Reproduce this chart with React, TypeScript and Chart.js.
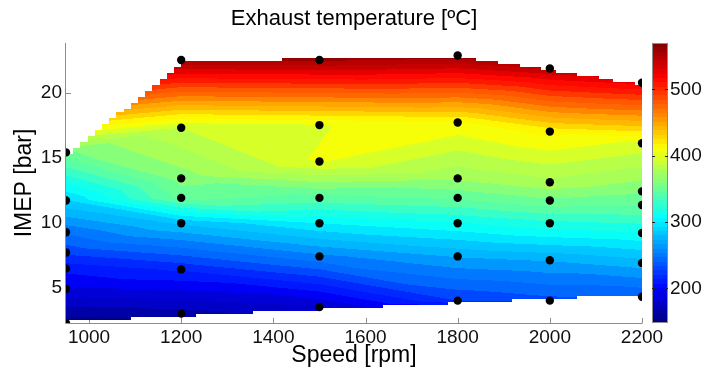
import React, { useEffect, useRef } from 'react';
import { Chart, registerables } from 'chart.js';
Chart.register(...registerables);

// ---- data ----
const speedColumns = [950, 1200, 1500, 1800, 2000, 2200];
const imep950 = [2.26, 4.9, 6.46, 7.7, 9.26, 11.7, 15.4];
const temp950 = [152, 190, 207, 228, 249, 290, 355];
const imep1200 = [3.0, 6.4, 9.95, 11.9, 13.4, 17.3, 22.5];
const temp1200 = [165, 216, 282, 350, 362, 390, 555];
const imep1500 = [3.5, 7.4, 9.95, 11.9, 14.7, 17.5, 22.5];
const temp1500 = [180, 255, 302, 342, 402, 400, 557];
const imep1800 = [4.0, 7.4, 9.95, 11.9, 13.4, 17.7, 22.85];
const temp1800 = [225, 270, 312, 348, 370, 410, 562];
const imep2000 = [4.0, 7.1, 9.95, 11.7, 13.1, 17.0, 21.85];
const temp2000 = [232, 270, 321, 355, 376, 416, 545];
const imep2200 = [4.3, 6.9, 9.2, 11.35, 12.4, 16.1, 20.75];
const temp2200 = [237, 275, 312, 348, 359, 398, 525];
const imepColumns = [imep950, imep1200, imep1500, imep1800, imep2000, imep2200];
const tempColumns = [temp950, temp1200, temp1500, temp1800, temp2000, temp2200];

const speedTicks = [1000, 1200, 1400, 1600, 1800, 2000, 2200];
const imepTicks = [5, 10, 15, 20];
const tempTicks = [200, 300, 400, 500];
const speedRange = [950, 2200];
const imepRange = [2.28, 23.82];
const tempRange = [148, 570];

const titleText = 'Exhaust temperature [ºC]';
const xTitle = 'Speed [rpm]';
const yTitle = 'IMEP [bar]';

const FONT = "'Liberation Sans', Arial, sans-serif";
const AXIS_GRAY = '#8c8c8c';
const BAND_STEP = 11;
const GRID_NX = 80;
const GRID_NY = 90;

type Pt = { x: number; y: number; t: number; u: number; v: number };

const U = (x: number) => ((x - speedRange[0]) / (speedRange[1] - speedRange[0])) * 576;
const V = (y: number) => ((y - imepRange[0]) / (imepRange[1] - imepRange[0])) * 280;

const points: Pt[] = speedColumns.flatMap((s, c) =>
  imepColumns[c].map((m, k) => ({ x: s, y: m, t: tempColumns[c][k], u: U(s), v: V(m) }))
);

function triangulate(p: Pt[]): number[][] {
  const n = p.length;
  const q = p.map((a) => ({ u: a.u, v: a.v }));
  const M = 20000;
  q.push({ u: -M, v: -M }, { u: 2 * M, v: -M }, { u: 288, v: 2 * M });
  let tris: number[][] = [[n, n + 1, n + 2]];
  const inCirc = (t: number[], d: { u: number; v: number }) => {
    const a = q[t[0]], b = q[t[1]], c = q[t[2]];
    const orient = (b.u - a.u) * (c.v - a.v) - (b.v - a.v) * (c.u - a.u);
    const adx = a.u - d.u, ady = a.v - d.v, bdx = b.u - d.u, bdy = b.v - d.v, cdx = c.u - d.u, cdy = c.v - d.v;
    const det =
      (adx * adx + ady * ady) * (bdx * cdy - cdx * bdy) -
      (bdx * bdx + bdy * bdy) * (adx * cdy - cdx * ady) +
      (cdx * cdx + cdy * cdy) * (adx * bdy - bdx * ady);
    return orient > 0 ? det > 1e-9 : det < -1e-9;
  };
  for (let i = 0; i < n; i++) {
    const d = q[i];
    const bad: number[][] = [];
    const keep: number[][] = [];
    for (const t of tris) (inCirc(t, d) ? bad : keep).push(t);
    const edges: number[][] = [];
    for (const t of bad) for (let k = 0; k < 3; k++) edges.push([t[k], t[(k + 1) % 3]]);
    const boundary = edges.filter(
      ([a, b]) => edges.filter(([c, e]) => (a === c && b === e) || (a === e && b === c)).length === 1
    );
    tris = keep;
    for (const [a, b] of boundary) tris.push([a, b, i]);
  }
  return tris.filter((t) => t[0] < n && t[1] < n && t[2] < n);
}

function convexHull(p: Pt[]): { u: number; v: number }[] {
  const s = p.map((a) => ({ u: a.u, v: a.v })).sort((a, b) => a.u - b.u || a.v - b.v);
  const cross = (o: any, a: any, b: any) => (a.u - o.u) * (b.v - o.v) - (a.v - o.v) * (b.u - o.u);
  const lower: any[] = [];
  for (const pt of s) {
    while (lower.length >= 2 && cross(lower[lower.length - 2], lower[lower.length - 1], pt) <= 1e-9) lower.pop();
    lower.push(pt);
  }
  const upper: any[] = [];
  for (let i = s.length - 1; i >= 0; i--) {
    const pt = s[i];
    while (upper.length >= 2 && cross(upper[upper.length - 2], upper[upper.length - 1], pt) <= 1e-9) upper.pop();
    upper.push(pt);
  }
  upper.pop();
  lower.pop();
  return lower.concat(upper);
}

function jet(t: number): [number, number, number] {
  const c = (x: number) => Math.max(0, Math.min(1, x));
  const idx = Math.min(63, Math.max(0, Math.floor(t * 64)));
  const q = (idx + 0.5) / 64;
  return [c(1.5 - Math.abs(4 * q - 3)), c(1.5 - Math.abs(4 * q - 2)), c(1.5 - Math.abs(4 * q - 1))];
}

function drawField(chart: any) {
  const { ctx, chartArea: ca, scales } = chart;
  const xs = scales.x, ys = scales.y;
  const tris = triangulate(points);
  const hull = convexHull(points);
  const coef = tris
    .map((t) => {
      const a = points[t[0]], b = points[t[1]], c = points[t[2]];
      const det = (b.v - c.v) * (a.u - c.u) + (c.u - b.u) * (a.v - c.v);
      return { a, b, c, det };
    })
    .filter((o) => Math.abs(o.det) > 1e-6);
  const inside = (u: number, v: number) => {
    for (let k = 0; k < hull.length; k++) {
      const a = hull[k], b = hull[(k + 1) % hull.length];
      const len = Math.hypot(b.u - a.u, b.v - a.v);
      const cr = (b.u - a.u) * (v - a.v) - (b.v - a.v) * (u - a.u);
      if (cr < -0.02 * len) return false;
    }
    return true;
  };
  const allX = points.map((p) => p.x), allY = points.map((p) => p.y);
  const gx0 = Math.min(...allX), gx1 = Math.max(...allX);
  const gy0 = Math.min(...allY), gy1 = Math.max(...allY);
  const nodeIn: boolean[] = [];
  for (let j = 0; j <= GRID_NY; j++)
    for (let i = 0; i <= GRID_NX; i++)
      nodeIn[j * (GRID_NX + 1) + i] = inside(U(gx0 + ((gx1 - gx0) * i) / GRID_NX), V(gy0 + ((gy1 - gy0) * j) / GRID_NY));
  const cellIn = (ci: number, cj: number) =>
    ci >= 0 && cj >= 0 && ci < GRID_NX && cj < GRID_NY &&
    nodeIn[cj * (GRID_NX + 1) + ci] && nodeIn[cj * (GRID_NX + 1) + ci + 1] &&
    nodeIn[(cj + 1) * (GRID_NX + 1) + ci] && nodeIn[(cj + 1) * (GRID_NX + 1) + ci + 1];

  const L = Math.round(ca.left), T = Math.round(ca.top), R = Math.round(ca.right), B = Math.round(ca.bottom);
  const w = R - L, h = B - T;
  const img = ctx.createImageData(w, h);
  const d = img.data;
  const xv: number[] = [];
  for (let i = 0; i < w; i++) xv.push(xs.getValueForPixel(L + i + 0.5));
  for (let j = 0; j < h; j++) {
    const yv = ys.getValueForPixel(T + j + 0.5);
    const v = V(yv);
    const cj = Math.floor(((yv - gy0) / (gy1 - gy0)) * GRID_NY);
    for (let i = 0; i < w; i++) {
      const x = xv[i];
      const ci = Math.floor(((x - gx0) / (gx1 - gx0)) * GRID_NX);
      if (!cellIn(ci, cj)) continue;
      const u = U(x);
      let best = -Infinity, val = 0;
      for (const o of coef) {
        const { a, b, c, det } = o;
        const l1 = ((b.v - c.v) * (u - c.u) + (c.u - b.u) * (v - c.v)) / det;
        const l2 = ((c.v - a.v) * (u - c.u) + (a.u - c.u) * (v - c.v)) / det;
        const l3 = 1 - l1 - l2;
        const m = Math.min(l1, l2, l3);
        if (m > best) {
          best = m;
          val = l1 * a.t + l2 * b.t + l3 * c.t;
          if (m >= -1e-9) break;
        }
      }
      const band = Math.floor((val - tempRange[0]) / BAND_STEP);
      const bv = tempRange[0] + (band + 0.5) * BAND_STEP;
      const [r, g, bl] = jet((bv - tempRange[0]) / (tempRange[1] - tempRange[0]));
      const k = (j * w + i) * 4;
      d[k] = r * 255; d[k + 1] = g * 255; d[k + 2] = bl * 255; d[k + 3] = 255;
    }
  }
  const off = document.createElement('canvas');
  off.width = w; off.height = h;
  off.getContext('2d')!.putImageData(img, 0, 0);
  ctx.drawImage(off, L, T);
}

const contourPlugin = {
  id: 'contourField',
  beforeDatasetsDraw(chart: any) {
    const { ctx, chartArea: ca, scales } = chart;
    const xs = scales.x, ys = scales.y, cb = scales.cb;
    ctx.save();
    // inward ticks (under the field)
    ctx.strokeStyle = AXIS_GRAY;
    ctx.lineWidth = 1;
    ctx.beginPath();
    for (const t of xs.ticks) {
      const px = Math.round(xs.getPixelForValue(t.value)) + 0.5;
      ctx.moveTo(px, ca.bottom);
      ctx.lineTo(px, ca.bottom - 5);
    }
    for (const t of ys.ticks) {
      const py = Math.round(ys.getPixelForValue(t.value)) + 0.5;
      ctx.moveTo(ca.left, py);
      ctx.lineTo(ca.left + 5, py);
    }
    ctx.stroke();
    drawField(chart);
    // axis lines
    ctx.strokeStyle = AXIS_GRAY;
    ctx.beginPath();
    const lx = Math.round(ca.left) - 0.5, by = Math.round(ca.bottom) + 0.5;
    ctx.moveTo(lx, Math.round(ca.top));
    ctx.lineTo(lx, by);
    ctx.lineTo(Math.round(ca.right) + 0.5, by);
    ctx.stroke();
    // colour bar
    const cbL = Math.round(ca.right) + 10, cbW = 16;
    const top = Math.round(cb.top), bot = Math.round(cb.bottom);
    for (let y = top; y < bot; y++) {
      const val = cb.getValueForPixel(y + 0.5);
      const [r, g, b] = jet((val - tempRange[0]) / (tempRange[1] - tempRange[0]));
      ctx.fillStyle = `rgb(${Math.round(r * 255)},${Math.round(g * 255)},${Math.round(b * 255)})`;
      ctx.fillRect(cbL, y, cbW, 1);
    }
    ctx.strokeStyle = AXIS_GRAY;
    ctx.strokeRect(cbL + 0.5, top + 0.5, cbW - 1, bot - top - 1);
    ctx.strokeStyle = '#222';
    ctx.beginPath();
    for (const t of cb.ticks) {
      const py = Math.round(cb.getPixelForValue(t.value)) + 0.5;
      ctx.moveTo(cbL, py); ctx.lineTo(cbL + 3, py);
      ctx.moveTo(cbL + cbW - 3, py); ctx.lineTo(cbL + cbW, py);
    }
    ctx.stroke();
    ctx.restore();
  },
};

const plain = (v: any) => String(v);

export default function App() {
  const ref = useRef<HTMLCanvasElement>(null);
  useEffect(() => {
    const chart = new Chart(ref.current!, {
      type: 'scatter',
      data: {
        datasets: [
          {
            data: points.map((p) => ({ x: p.x, y: p.y })),
            backgroundColor: '#000',
            borderColor: '#000',
            borderWidth: 0,
            pointRadius: 4.2,
            pointHoverRadius: 4.2,
          },
        ],
      },
      options: {
        animation: false,
        responsive: false,
        devicePixelRatio: 1,
        layout: { padding: 0 },
        events: [],
        plugins: {
          legend: { display: false },
          tooltip: { enabled: false },
          title: {
            display: true,
            text: titleText,
            color: '#000',
            fullSize: false,
            font: { family: FONT, size: 22, weight: 'normal' },
            padding: { top: 5.5, bottom: 11 },
          },
        },
        scales: {
          x: {
            type: 'linear',
            position: 'bottom',
            min: speedRange[0],
            max: speedRange[1],
            afterBuildTicks: (s: any) => { s.ticks = speedTicks.map((v) => ({ value: v })); },
            afterFit: (s: any) => { s.height = 51; },
            grid: { display: false, drawTicks: false },
            border: { display: false },
            ticks: { color: '#111', padding: 3, maxRotation: 0, callback: plain, font: { family: FONT, size: 19 } },
            title: { display: true, text: xTitle, color: '#000', font: { family: FONT, size: 23 }, padding: { top: 0, bottom: 5 } },
          },
          y: {
            type: 'linear',
            position: 'left',
            min: imepRange[0],
            max: imepRange[1],
            afterBuildTicks: (s: any) => { s.ticks = imepTicks.map((v) => ({ value: v })); },
            afterFit: (s: any) => { s.width = 66; },
            grid: { display: false, drawTicks: false },
            border: { display: false },
            ticks: { color: '#111', padding: 4, callback: plain, font: { family: FONT, size: 19 } },
            title: { display: true, text: yTitle, color: '#000', font: { family: FONT, size: 23 }, padding: { top: 11, bottom: 0 } },
          },
          cb: {
            type: 'linear',
            axis: 'y',
            position: 'right',
            display: true,
            min: tempRange[0],
            max: tempRange[1],
            afterBuildTicks: (s: any) => { s.ticks = tempTicks.map((v) => ({ value: v })); },
            afterFit: (s: any) => { s.width = 62; },
            grid: { display: false, drawTicks: false },
            border: { display: false },
            ticks: { color: '#111', padding: 28, callback: plain, font: { family: FONT, size: 19 } },
          },
        },
      } as any,
      plugins: [contourPlugin],
    });
    return () => chart.destroy();
  }, []);
  return (
    <div style={{ position: 'fixed', left: 0, top: 0, width: 704, height: 374, background: '#fff' }}>
      <canvas ref={ref} width={704} height={374} style={{ display: 'block', width: 704, height: 374 }} />
    </div>
  );
}
